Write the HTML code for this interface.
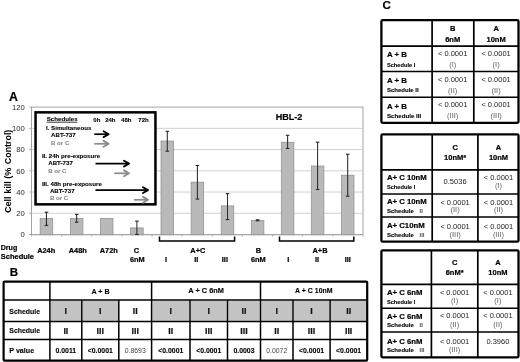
<!DOCTYPE html>
<html><head><meta charset="utf-8"><style>
html,body{margin:0;padding:0;background:#fff;}
svg{display:block;font-family:"Liberation Sans", Arial, sans-serif;}
</style></head><body>
<svg width="520" height="362" viewBox="0 0 520 362">
<rect width="520" height="362" fill="#fff"/>
<text x="8.9" y="101.3" font-size="12.3" font-weight="bold" text-anchor="start" fill="#000" stroke="#000" stroke-width="0.2" >A</text>
<rect x="31.5" y="107.1" width="331.5" height="127.4" fill="#fff" stroke="#9a9a9a" stroke-width="0.9" />
<line x1="31.5" y1="213.26999999999998" x2="363" y2="213.26999999999998" stroke="#c6c6c6" stroke-width="0.8" />
<line x1="31.5" y1="192.04" x2="363" y2="192.04" stroke="#c6c6c6" stroke-width="0.8" />
<line x1="31.5" y1="170.81" x2="363" y2="170.81" stroke="#c6c6c6" stroke-width="0.8" />
<line x1="31.5" y1="149.57999999999998" x2="363" y2="149.57999999999998" stroke="#c6c6c6" stroke-width="0.8" />
<line x1="31.5" y1="128.35" x2="363" y2="128.35" stroke="#c6c6c6" stroke-width="0.8" />
<line x1="29.0" y1="234.5" x2="31.5" y2="234.5" stroke="#a0a0a0" stroke-width="0.8" />
<text x="24.9" y="237.25" font-size="7.7" font-weight="normal" text-anchor="end" fill="#2a2a2a" >0</text>
<line x1="29.0" y1="213.26999999999998" x2="31.5" y2="213.26999999999998" stroke="#a0a0a0" stroke-width="0.8" />
<text x="24.9" y="216.02" font-size="7.7" font-weight="normal" text-anchor="end" fill="#2a2a2a" >20</text>
<line x1="29.0" y1="192.04" x2="31.5" y2="192.04" stroke="#a0a0a0" stroke-width="0.8" />
<text x="24.9" y="194.79" font-size="7.7" font-weight="normal" text-anchor="end" fill="#2a2a2a" >40</text>
<line x1="29.0" y1="170.81" x2="31.5" y2="170.81" stroke="#a0a0a0" stroke-width="0.8" />
<text x="24.9" y="173.56" font-size="7.7" font-weight="normal" text-anchor="end" fill="#2a2a2a" >60</text>
<line x1="29.0" y1="149.57999999999998" x2="31.5" y2="149.57999999999998" stroke="#a0a0a0" stroke-width="0.8" />
<text x="24.9" y="152.33" font-size="7.7" font-weight="normal" text-anchor="end" fill="#2a2a2a" >80</text>
<line x1="29.0" y1="128.35" x2="31.5" y2="128.35" stroke="#a0a0a0" stroke-width="0.8" />
<text x="24.9" y="131.1" font-size="7.7" font-weight="normal" text-anchor="end" fill="#2a2a2a" >100</text>
<line x1="29.0" y1="107.11999999999999" x2="31.5" y2="107.11999999999999" stroke="#a0a0a0" stroke-width="0.8" />
<text x="24.9" y="109.87" font-size="7.7" font-weight="normal" text-anchor="end" fill="#2a2a2a" >120</text>
<line x1="31.5" y1="234.8" x2="363" y2="234.8" stroke="#a8a8a8" stroke-width="0.9" />
<line x1="31.5" y1="234.5" x2="31.5" y2="236.5" stroke="#a0a0a0" stroke-width="0.8" />
<line x1="61.629999999999995" y1="234.5" x2="61.629999999999995" y2="236.5" stroke="#a0a0a0" stroke-width="0.8" />
<line x1="91.75999999999999" y1="234.5" x2="91.75999999999999" y2="236.5" stroke="#a0a0a0" stroke-width="0.8" />
<line x1="121.89" y1="234.5" x2="121.89" y2="236.5" stroke="#a0a0a0" stroke-width="0.8" />
<line x1="152.01999999999998" y1="234.5" x2="152.01999999999998" y2="236.5" stroke="#a0a0a0" stroke-width="0.8" />
<line x1="182.15" y1="234.5" x2="182.15" y2="236.5" stroke="#a0a0a0" stroke-width="0.8" />
<line x1="212.28" y1="234.5" x2="212.28" y2="236.5" stroke="#a0a0a0" stroke-width="0.8" />
<line x1="242.41" y1="234.5" x2="242.41" y2="236.5" stroke="#a0a0a0" stroke-width="0.8" />
<line x1="272.53999999999996" y1="234.5" x2="272.53999999999996" y2="236.5" stroke="#a0a0a0" stroke-width="0.8" />
<line x1="302.67" y1="234.5" x2="302.67" y2="236.5" stroke="#a0a0a0" stroke-width="0.8" />
<line x1="332.8" y1="234.5" x2="332.8" y2="236.5" stroke="#a0a0a0" stroke-width="0.8" />
<line x1="362.93" y1="234.5" x2="362.93" y2="236.5" stroke="#a0a0a0" stroke-width="0.8" />
<rect x="40.150000000000006" y="218.4" width="12.6" height="16.400000000000006" fill="#b9b9b9" stroke="#8c8c8c" stroke-width="0.7" />
<line x1="46.45" y1="212.2" x2="46.45" y2="225.4" stroke="#2a2a2a" stroke-width="1.05" />
<line x1="44.650000000000006" y1="212.2" x2="48.25" y2="212.2" stroke="#2a2a2a" stroke-width="1.1" />
<line x1="44.650000000000006" y1="225.4" x2="48.25" y2="225.4" stroke="#2a2a2a" stroke-width="1.1" />
<rect x="70.35000000000001" y="218.4" width="12.6" height="16.400000000000006" fill="#b9b9b9" stroke="#8c8c8c" stroke-width="0.7" />
<line x1="76.65" y1="214.4" x2="76.65" y2="222.2" stroke="#2a2a2a" stroke-width="1.05" />
<line x1="74.85000000000001" y1="214.4" x2="78.45" y2="214.4" stroke="#2a2a2a" stroke-width="1.1" />
<line x1="74.85000000000001" y1="222.2" x2="78.45" y2="222.2" stroke="#2a2a2a" stroke-width="1.1" />
<rect x="100.4" y="218.4" width="12.6" height="16.400000000000006" fill="#b9b9b9" stroke="#8c8c8c" stroke-width="0.7" />
<rect x="130.6" y="227.9" width="12.6" height="6.900000000000006" fill="#b9b9b9" stroke="#8c8c8c" stroke-width="0.7" />
<line x1="136.9" y1="221.1" x2="136.9" y2="234.5" stroke="#2a2a2a" stroke-width="1.05" />
<line x1="135.1" y1="221.1" x2="138.70000000000002" y2="221.1" stroke="#2a2a2a" stroke-width="1.1" />
<line x1="135.1" y1="234.5" x2="138.70000000000002" y2="234.5" stroke="#2a2a2a" stroke-width="1.1" />
<rect x="161.0" y="141.0" width="12.6" height="93.80000000000001" fill="#b9b9b9" stroke="#8c8c8c" stroke-width="0.7" />
<line x1="167.3" y1="131.3" x2="167.3" y2="151.2" stroke="#2a2a2a" stroke-width="1.05" />
<line x1="165.5" y1="131.3" x2="169.10000000000002" y2="131.3" stroke="#2a2a2a" stroke-width="1.1" />
<line x1="165.5" y1="151.2" x2="169.10000000000002" y2="151.2" stroke="#2a2a2a" stroke-width="1.1" />
<rect x="191.1" y="182.1" width="12.6" height="52.70000000000002" fill="#b9b9b9" stroke="#8c8c8c" stroke-width="0.7" />
<line x1="197.4" y1="165.5" x2="197.4" y2="199.1" stroke="#2a2a2a" stroke-width="1.05" />
<line x1="195.6" y1="165.5" x2="199.20000000000002" y2="165.5" stroke="#2a2a2a" stroke-width="1.1" />
<line x1="195.6" y1="199.1" x2="199.20000000000002" y2="199.1" stroke="#2a2a2a" stroke-width="1.1" />
<rect x="221.2" y="205.9" width="12.6" height="28.900000000000006" fill="#b9b9b9" stroke="#8c8c8c" stroke-width="0.7" />
<line x1="227.5" y1="193.6" x2="227.5" y2="219.6" stroke="#2a2a2a" stroke-width="1.05" />
<line x1="225.7" y1="193.6" x2="229.3" y2="193.6" stroke="#2a2a2a" stroke-width="1.1" />
<line x1="225.7" y1="219.6" x2="229.3" y2="219.6" stroke="#2a2a2a" stroke-width="1.1" />
<rect x="251.3" y="220.3" width="12.6" height="14.5" fill="#b9b9b9" stroke="#8c8c8c" stroke-width="0.7" />
<line x1="257.6" y1="219.8" x2="257.6" y2="220.8" stroke="#2a2a2a" stroke-width="1.05" />
<line x1="255.8" y1="219.8" x2="259.40000000000003" y2="219.8" stroke="#2a2a2a" stroke-width="1.1" />
<line x1="255.8" y1="220.8" x2="259.40000000000003" y2="220.8" stroke="#2a2a2a" stroke-width="1.1" />
<rect x="281.3" y="142.2" width="12.6" height="92.60000000000002" fill="#b9b9b9" stroke="#8c8c8c" stroke-width="0.7" />
<line x1="287.6" y1="135.3" x2="287.6" y2="148.5" stroke="#2a2a2a" stroke-width="1.05" />
<line x1="285.8" y1="135.3" x2="289.40000000000003" y2="135.3" stroke="#2a2a2a" stroke-width="1.1" />
<line x1="285.8" y1="148.5" x2="289.40000000000003" y2="148.5" stroke="#2a2a2a" stroke-width="1.1" />
<rect x="311.3" y="166.0" width="12.6" height="68.80000000000001" fill="#b9b9b9" stroke="#8c8c8c" stroke-width="0.7" />
<line x1="317.6" y1="142.2" x2="317.6" y2="189.5" stroke="#2a2a2a" stroke-width="1.05" />
<line x1="315.8" y1="142.2" x2="319.40000000000003" y2="142.2" stroke="#2a2a2a" stroke-width="1.1" />
<line x1="315.8" y1="189.5" x2="319.40000000000003" y2="189.5" stroke="#2a2a2a" stroke-width="1.1" />
<rect x="341.4" y="175.2" width="12.6" height="59.60000000000002" fill="#b9b9b9" stroke="#8c8c8c" stroke-width="0.7" />
<line x1="347.7" y1="154.2" x2="347.7" y2="196.2" stroke="#2a2a2a" stroke-width="1.05" />
<line x1="345.9" y1="154.2" x2="349.5" y2="154.2" stroke="#2a2a2a" stroke-width="1.1" />
<line x1="345.9" y1="196.2" x2="349.5" y2="196.2" stroke="#2a2a2a" stroke-width="1.1" />
<text transform="translate(10.5,213.0) rotate(-90)" x="0" y="0" font-size="8.8" font-weight="bold" textLength="45.3" lengthAdjust="spacingAndGlyphs">Cell kill (%</text>
<text transform="translate(10.5,164.2) rotate(-90)" x="0" y="0" font-size="8.8" font-weight="bold" textLength="34.5" lengthAdjust="spacingAndGlyphs">Control)</text>
<text x="275.7" y="119.8" font-size="9.1" font-weight="bold" text-anchor="start" fill="#000" stroke="#000" stroke-width="0.2" textLength="26.6" lengthAdjust="spacingAndGlyphs" >HBL-2</text>
<rect x="35.55" y="112.35" width="119.9" height="92.0" fill="#fff" stroke="#000" stroke-width="2.5" />
<text x="46.7" y="121.0" font-size="6" font-weight="bold" text-anchor="start" fill="#000" stroke="#000" stroke-width="0.1" textLength="31.0" lengthAdjust="spacingAndGlyphs" >Schedules</text>
<line x1="46.7" y1="122.2" x2="77.4" y2="122.2" stroke="#000" stroke-width="0.8" />
<text x="93.3" y="121.8" font-size="6" font-weight="bold" text-anchor="start" fill="#000" stroke="#000" stroke-width="0.1" >0h</text>
<text x="105.2" y="121.8" font-size="6" font-weight="bold" text-anchor="start" fill="#000" stroke="#000" stroke-width="0.1" >24h</text>
<text x="121.1" y="121.8" font-size="6" font-weight="bold" text-anchor="start" fill="#000" stroke="#000" stroke-width="0.1" >48h</text>
<text x="138.3" y="121.8" font-size="6" font-weight="bold" text-anchor="start" fill="#000" stroke="#000" stroke-width="0.1" >72h</text>
<text x="46.0" y="130.1" font-size="6" font-weight="bold" text-anchor="start" fill="#000" stroke="#000" stroke-width="0.1" textLength="45.3" lengthAdjust="spacingAndGlyphs" >I. Simultaneous</text>
<text x="51.0" y="137.4" font-size="6" font-weight="bold" text-anchor="start" fill="#000" stroke="#000" stroke-width="0.1" textLength="24.7" lengthAdjust="spacingAndGlyphs" >ABT-737</text>
<text x="51.0" y="144.9" font-size="6" font-weight="bold" text-anchor="start" fill="#8a8a8a" stroke="#8a8a8a" stroke-width="0.1" textLength="18.3" lengthAdjust="spacingAndGlyphs" >B or C</text>
<text x="41.9" y="158.3" font-size="6" font-weight="bold" text-anchor="start" fill="#000" stroke="#000" stroke-width="0.1" textLength="58.2" lengthAdjust="spacingAndGlyphs" >II. 24h pre-exposure</text>
<text x="48.2" y="165.3" font-size="6" font-weight="bold" text-anchor="start" fill="#000" stroke="#000" stroke-width="0.1" textLength="24.7" lengthAdjust="spacingAndGlyphs" >ABT-737</text>
<text x="48.2" y="172.9" font-size="6" font-weight="bold" text-anchor="start" fill="#8a8a8a" stroke="#8a8a8a" stroke-width="0.1" textLength="18.3" lengthAdjust="spacingAndGlyphs" >B or C</text>
<text x="41.9" y="185.8" font-size="6" font-weight="bold" text-anchor="start" fill="#000" stroke="#000" stroke-width="0.1" textLength="60" lengthAdjust="spacingAndGlyphs" >III. 48h pre-exposure</text>
<text x="49.9" y="193.2" font-size="6" font-weight="bold" text-anchor="start" fill="#000" stroke="#000" stroke-width="0.1" textLength="24.7" lengthAdjust="spacingAndGlyphs" >ABT-737</text>
<text x="49.9" y="200.0" font-size="6" font-weight="bold" text-anchor="start" fill="#8a8a8a" stroke="#8a8a8a" stroke-width="0.1" textLength="18.3" lengthAdjust="spacingAndGlyphs" >B or C</text>
<line x1="94.3" y1="134.2" x2="107.8" y2="134.2" stroke="#000" stroke-width="1.7" />
<polyline points="103.6,131.3 108.6,134.2 103.6,137.1" fill="none" stroke="#000" stroke-width="1.9" stroke-linejoin="round" stroke-linecap="round"/>
<line x1="94.3" y1="143.8" x2="107.8" y2="143.8" stroke="#8a8a8a" stroke-width="1.7" />
<polyline points="103.6,140.9 108.6,143.8 103.6,146.7" fill="none" stroke="#8a8a8a" stroke-width="1.9" stroke-linejoin="round" stroke-linecap="round"/>
<line x1="95.5" y1="163.6" x2="128.2" y2="163.6" stroke="#000" stroke-width="1.7" />
<polyline points="124.0,160.7 129.0,163.6 124.0,166.5" fill="none" stroke="#000" stroke-width="1.9" stroke-linejoin="round" stroke-linecap="round"/>
<line x1="114.3" y1="173.3" x2="128.2" y2="173.3" stroke="#8a8a8a" stroke-width="1.7" />
<polyline points="124.0,170.4 129.0,173.3 124.0,176.2" fill="none" stroke="#8a8a8a" stroke-width="1.9" stroke-linejoin="round" stroke-linecap="round"/>
<line x1="95.5" y1="190.1" x2="147.2" y2="190.1" stroke="#000" stroke-width="1.7" />
<polyline points="143.0,187.2 148.0,190.1 143.0,193.0" fill="none" stroke="#000" stroke-width="1.9" stroke-linejoin="round" stroke-linecap="round"/>
<line x1="134.0" y1="199.8" x2="147.2" y2="199.8" stroke="#8a8a8a" stroke-width="1.7" />
<polyline points="143.0,196.9 148.0,199.8 143.0,202.7" fill="none" stroke="#8a8a8a" stroke-width="1.9" stroke-linejoin="round" stroke-linecap="round"/>
<text x="0.8" y="250.3" font-size="7.3" font-weight="bold" text-anchor="start" fill="#000" stroke="#000" stroke-width="0.2" textLength="16.4" lengthAdjust="spacingAndGlyphs" >Drug</text>
<text x="0.8" y="258.6" font-size="7.3" font-weight="bold" text-anchor="start" fill="#000" stroke="#000" stroke-width="0.2" textLength="33.2" lengthAdjust="spacingAndGlyphs" >Schedule</text>
<text x="46.2" y="253.2" font-size="7.4" font-weight="bold" text-anchor="middle" fill="#000" stroke="#000" stroke-width="0.2" >A24h</text>
<text x="77.8" y="253.2" font-size="7.4" font-weight="bold" text-anchor="middle" fill="#000" stroke="#000" stroke-width="0.2" >A48h</text>
<text x="108.8" y="253.2" font-size="7.4" font-weight="bold" text-anchor="middle" fill="#000" stroke="#000" stroke-width="0.2" >A72h</text>
<text x="136.4" y="253.2" font-size="7.4" font-weight="bold" text-anchor="middle" fill="#000" stroke="#000" stroke-width="0.2" >C</text>
<text x="137.3" y="262.3" font-size="7.4" font-weight="bold" text-anchor="middle" fill="#000" stroke="#000" stroke-width="0.2" >6nM</text>
<text x="197.8" y="252.8" font-size="7.4" font-weight="bold" text-anchor="middle" fill="#000" stroke="#000" stroke-width="0.2" >A+C</text>
<text x="258.4" y="252.8" font-size="7.4" font-weight="bold" text-anchor="middle" fill="#000" stroke="#000" stroke-width="0.2" >B</text>
<text x="258.4" y="262.0" font-size="7.4" font-weight="bold" text-anchor="middle" fill="#000" stroke="#000" stroke-width="0.2" >6nM</text>
<text x="320.0" y="252.8" font-size="7.4" font-weight="bold" text-anchor="middle" fill="#000" stroke="#000" stroke-width="0.2" >A+B</text>
<text x="166" y="262.0" font-size="7.4" font-weight="bold" text-anchor="middle" fill="#000" stroke="#000" stroke-width="0.2" >I</text>
<text x="196.3" y="262.0" font-size="7.4" font-weight="bold" text-anchor="middle" fill="#000" stroke="#000" stroke-width="0.2" >II</text>
<text x="224.9" y="262.0" font-size="7.4" font-weight="bold" text-anchor="middle" fill="#000" stroke="#000" stroke-width="0.2" >III</text>
<text x="288.3" y="262.0" font-size="7.4" font-weight="bold" text-anchor="middle" fill="#000" stroke="#000" stroke-width="0.2" >I</text>
<text x="317" y="262.0" font-size="7.4" font-weight="bold" text-anchor="middle" fill="#000" stroke="#000" stroke-width="0.2" >II</text>
<text x="347.8" y="262.0" font-size="7.4" font-weight="bold" text-anchor="middle" fill="#000" stroke="#000" stroke-width="0.2" >III</text>
<polyline points="159.5,236.4 159.5,240.9 234.6,240.9 234.6,236.4" fill="none" stroke="#000" stroke-width="1.5"/>
<polyline points="279.5,236.4 279.5,240.9 353.8,240.9 353.8,236.4" fill="none" stroke="#000" stroke-width="1.5"/>
<text x="9.8" y="276.2" font-size="11.5" font-weight="bold" text-anchor="start" fill="#000" stroke="#000" stroke-width="0.2" >B</text>
<rect x="50.699999999999996" y="300.8" width="30.299999999999997" height="20.00000000000002" fill="#c3c3c3" stroke="none" stroke-width="1" />
<rect x="82.6" y="300.8" width="35.4" height="20.00000000000002" fill="#c3c3c3" stroke="none" stroke-width="1" />
<rect x="152.4" y="300.8" width="36.800000000000004" height="20.00000000000002" fill="#c3c3c3" stroke="none" stroke-width="1" />
<rect x="190.8" y="300.8" width="35.9" height="20.00000000000002" fill="#c3c3c3" stroke="none" stroke-width="1" />
<rect x="228.3" y="300.8" width="31.4" height="20.00000000000002" fill="#c3c3c3" stroke="none" stroke-width="1" />
<rect x="261.3" y="300.8" width="30.9" height="20.00000000000002" fill="#c3c3c3" stroke="none" stroke-width="1" />
<rect x="293.8" y="300.8" width="35.50000000000002" height="20.00000000000002" fill="#c3c3c3" stroke="none" stroke-width="1" />
<rect x="330.90000000000003" y="300.8" width="35.499999999999964" height="20.00000000000002" fill="#c3c3c3" stroke="none" stroke-width="1" />
<line x1="3.6" y1="300.0" x2="367.2" y2="300.0" stroke="#000" stroke-width="1.5" />
<line x1="3.6" y1="321.6" x2="367.2" y2="321.6" stroke="#000" stroke-width="1.5" />
<line x1="3.6" y1="339.4" x2="367.2" y2="339.4" stroke="#000" stroke-width="1.5" />
<line x1="49.9" y1="281.6" x2="49.9" y2="360.7" stroke="#000" stroke-width="1.5" />
<line x1="81.8" y1="300.0" x2="81.8" y2="360.7" stroke="#000" stroke-width="1.5" />
<line x1="118.8" y1="300.0" x2="118.8" y2="360.7" stroke="#000" stroke-width="1.5" />
<line x1="151.6" y1="281.6" x2="151.6" y2="360.7" stroke="#000" stroke-width="1.5" />
<line x1="190.0" y1="300.0" x2="190.0" y2="360.7" stroke="#000" stroke-width="1.5" />
<line x1="227.5" y1="300.0" x2="227.5" y2="360.7" stroke="#000" stroke-width="1.5" />
<line x1="260.5" y1="281.6" x2="260.5" y2="360.7" stroke="#000" stroke-width="1.5" />
<line x1="293.0" y1="300.0" x2="293.0" y2="360.7" stroke="#000" stroke-width="1.5" />
<line x1="330.1" y1="300.0" x2="330.1" y2="360.7" stroke="#000" stroke-width="1.5" />
<rect x="3.6" y="281.6" width="363.59999999999997" height="79.09999999999997" fill="none" stroke="#000" stroke-width="2.2" rx="1"/>
<text x="100.6" y="293.6" font-size="6.9" font-weight="bold" text-anchor="middle" fill="#000" stroke="#000" stroke-width="0.1" textLength="18.3" lengthAdjust="spacingAndGlyphs" >A + B</text>
<text x="206.1" y="293.4" font-size="6.9" font-weight="bold" text-anchor="middle" fill="#000" stroke="#000" stroke-width="0.1" textLength="35.6" lengthAdjust="spacingAndGlyphs" >A + C 6nM</text>
<text x="313.9" y="293.4" font-size="6.9" font-weight="bold" text-anchor="middle" fill="#000" stroke="#000" stroke-width="0.1" textLength="37.6" lengthAdjust="spacingAndGlyphs" >A + C 10nM</text>
<text x="9.3" y="313.6" font-size="6.9" font-weight="bold" text-anchor="start" fill="#000" stroke="#000" stroke-width="0.1" textLength="30.8" lengthAdjust="spacingAndGlyphs" >Schedule</text>
<text x="9.3" y="333.0" font-size="6.9" font-weight="bold" text-anchor="start" fill="#000" stroke="#000" stroke-width="0.1" textLength="30.8" lengthAdjust="spacingAndGlyphs" >Schedule</text>
<text x="9.3" y="353.1" font-size="6.9" font-weight="bold" text-anchor="start" fill="#000" stroke="#000" stroke-width="0.1" textLength="24.8" lengthAdjust="spacingAndGlyphs" >P value</text>
<text x="65.85" y="314.1" font-size="8.9" font-weight="bold" text-anchor="middle" fill="#111" stroke="#111" stroke-width="0.2" >I</text>
<text x="65.85" y="333.8" font-size="8.9" font-weight="bold" text-anchor="middle" fill="#111" stroke="#111" stroke-width="0.2" >II</text>
<text x="65.85" y="353.3" font-size="6.9" font-weight="bold" text-anchor="middle" fill="#000" stroke="#000" stroke-width="0.1" >0.0011</text>
<text x="100.3" y="314.1" font-size="8.9" font-weight="bold" text-anchor="middle" fill="#111" stroke="#111" stroke-width="0.2" >I</text>
<text x="100.3" y="333.8" font-size="8.9" font-weight="bold" text-anchor="middle" fill="#111" stroke="#111" stroke-width="0.2" >III</text>
<text x="100.3" y="353.3" font-size="6.9" font-weight="bold" text-anchor="middle" fill="#000" stroke="#000" stroke-width="0.1" ><0.0001</text>
<text x="135.2" y="314.1" font-size="8.9" font-weight="bold" text-anchor="middle" fill="#111" stroke="#111" stroke-width="0.2" >II</text>
<text x="135.2" y="333.8" font-size="8.9" font-weight="bold" text-anchor="middle" fill="#111" stroke="#111" stroke-width="0.2" >III</text>
<text x="135.2" y="353.3" font-size="6.9" font-weight="normal" text-anchor="middle" fill="#444" >0.8693</text>
<text x="170.8" y="314.1" font-size="8.9" font-weight="bold" text-anchor="middle" fill="#111" stroke="#111" stroke-width="0.2" >I</text>
<text x="170.8" y="333.8" font-size="8.9" font-weight="bold" text-anchor="middle" fill="#111" stroke="#111" stroke-width="0.2" >II</text>
<text x="170.8" y="353.3" font-size="6.9" font-weight="bold" text-anchor="middle" fill="#000" stroke="#000" stroke-width="0.1" ><0.0001</text>
<text x="208.75" y="314.1" font-size="8.9" font-weight="bold" text-anchor="middle" fill="#111" stroke="#111" stroke-width="0.2" >I</text>
<text x="208.75" y="333.8" font-size="8.9" font-weight="bold" text-anchor="middle" fill="#111" stroke="#111" stroke-width="0.2" >III</text>
<text x="208.75" y="353.3" font-size="6.9" font-weight="bold" text-anchor="middle" fill="#000" stroke="#000" stroke-width="0.1" ><0.0001</text>
<text x="244.0" y="314.1" font-size="8.9" font-weight="bold" text-anchor="middle" fill="#111" stroke="#111" stroke-width="0.2" >II</text>
<text x="244.0" y="333.8" font-size="8.9" font-weight="bold" text-anchor="middle" fill="#111" stroke="#111" stroke-width="0.2" >III</text>
<text x="244.0" y="353.3" font-size="6.9" font-weight="bold" text-anchor="middle" fill="#000" stroke="#000" stroke-width="0.1" >0.0003</text>
<text x="276.75" y="314.1" font-size="8.9" font-weight="bold" text-anchor="middle" fill="#111" stroke="#111" stroke-width="0.2" >I</text>
<text x="276.75" y="333.8" font-size="8.9" font-weight="bold" text-anchor="middle" fill="#111" stroke="#111" stroke-width="0.2" >II</text>
<text x="276.75" y="353.3" font-size="6.9" font-weight="normal" text-anchor="middle" fill="#444" >0.0072</text>
<text x="311.55" y="314.1" font-size="8.9" font-weight="bold" text-anchor="middle" fill="#111" stroke="#111" stroke-width="0.2" >I</text>
<text x="311.55" y="333.8" font-size="8.9" font-weight="bold" text-anchor="middle" fill="#111" stroke="#111" stroke-width="0.2" >III</text>
<text x="311.55" y="353.3" font-size="6.9" font-weight="bold" text-anchor="middle" fill="#000" stroke="#000" stroke-width="0.1" ><0.0001</text>
<text x="348.65" y="314.1" font-size="8.9" font-weight="bold" text-anchor="middle" fill="#111" stroke="#111" stroke-width="0.2" >II</text>
<text x="348.65" y="333.8" font-size="8.9" font-weight="bold" text-anchor="middle" fill="#111" stroke="#111" stroke-width="0.2" >III</text>
<text x="348.65" y="353.3" font-size="6.9" font-weight="bold" text-anchor="middle" fill="#000" stroke="#000" stroke-width="0.1" ><0.0001</text>
<text x="382.5" y="8.9" font-size="11.5" font-weight="bold" text-anchor="start" fill="#000" stroke="#000" stroke-width="0.2" >C</text>
<line x1="381.4" y1="71.5" x2="518.5" y2="71.5" stroke="#000" stroke-width="1.5" />
<line x1="381.4" y1="97.3" x2="518.5" y2="97.3" stroke="#000" stroke-width="1.5" />
<line x1="381.4" y1="46.1" x2="518.5" y2="46.1" stroke="#000" stroke-width="1.7" />
<line x1="432.1" y1="20.2" x2="432.1" y2="122.8" stroke="#000" stroke-width="1.7" />
<line x1="473.8" y1="20.2" x2="473.8" y2="122.8" stroke="#000" stroke-width="1.7" />
<rect x="381.4" y="20.2" width="137.10000000000002" height="102.6" fill="none" stroke="#000" stroke-width="2.3" rx="1.3"/>
<text x="452.7" y="30.59" font-size="7.5" font-weight="bold" text-anchor="middle" fill="#000" stroke="#000" stroke-width="0.2" >B</text>
<text x="452.7" y="41.59" font-size="7.5" font-weight="bold" text-anchor="middle" fill="#000" stroke="#000" stroke-width="0.2" >6nM</text>
<text x="496.1" y="30.59" font-size="7.5" font-weight="bold" text-anchor="middle" fill="#000" stroke="#000" stroke-width="0.2" >A</text>
<text x="496.1" y="41.59" font-size="7.5" font-weight="bold" text-anchor="middle" fill="#000" stroke="#000" stroke-width="0.2" >10nM</text>
<text x="386.9" y="57.4" font-size="8.0" font-weight="bold" text-anchor="start" fill="#000" stroke="#000" stroke-width="0.2" textLength="19.9" lengthAdjust="spacingAndGlyphs" >A + B</text>
<text x="386.9" y="66.55" font-size="6.0" font-weight="bold" text-anchor="start" fill="#000" stroke="#000" stroke-width="0.1" textLength="28.4" lengthAdjust="spacingAndGlyphs" >Schedule I</text>
<text x="452.7" y="56.19" font-size="7.5" font-weight="normal" text-anchor="middle" fill="#222" >< 0.0001</text>
<text x="452.7" y="67.04" font-size="7.5" font-weight="normal" text-anchor="middle" fill="#606060" >(I)</text>
<text x="496.1" y="56.19" font-size="7.5" font-weight="normal" text-anchor="middle" fill="#222" >< 0.0001</text>
<text x="496.1" y="67.04" font-size="7.5" font-weight="normal" text-anchor="middle" fill="#606060" >(I)</text>
<text x="386.9" y="83.1" font-size="8.0" font-weight="bold" text-anchor="start" fill="#000" stroke="#000" stroke-width="0.2" textLength="19.9" lengthAdjust="spacingAndGlyphs" >A + B</text>
<text x="386.9" y="92.25" font-size="6.0" font-weight="bold" text-anchor="start" fill="#000" stroke="#000" stroke-width="0.1" textLength="31.8" lengthAdjust="spacingAndGlyphs" >Schedule II</text>
<text x="452.7" y="82.09" font-size="7.5" font-weight="normal" text-anchor="middle" fill="#222" >< 0.0001</text>
<text x="452.7" y="92.74" font-size="7.5" font-weight="normal" text-anchor="middle" fill="#606060" >(II)</text>
<text x="496.1" y="82.09" font-size="7.5" font-weight="normal" text-anchor="middle" fill="#222" >< 0.0001</text>
<text x="496.1" y="92.74" font-size="7.5" font-weight="normal" text-anchor="middle" fill="#606060" >(II)</text>
<text x="386.9" y="109.0" font-size="8.0" font-weight="bold" text-anchor="start" fill="#000" stroke="#000" stroke-width="0.2" textLength="19.9" lengthAdjust="spacingAndGlyphs" >A + B</text>
<text x="386.9" y="118.25" font-size="6.0" font-weight="bold" text-anchor="start" fill="#000" stroke="#000" stroke-width="0.1" textLength="34.3" lengthAdjust="spacingAndGlyphs" >Schedule III</text>
<text x="452.7" y="107.29" font-size="7.5" font-weight="normal" text-anchor="middle" fill="#222" >< 0.0001</text>
<text x="452.7" y="117.94" font-size="7.5" font-weight="normal" text-anchor="middle" fill="#606060" >(III)</text>
<text x="496.1" y="107.29" font-size="7.5" font-weight="normal" text-anchor="middle" fill="#222" >< 0.0001</text>
<text x="496.1" y="117.94" font-size="7.5" font-weight="normal" text-anchor="middle" fill="#606060" >(III)</text>
<line x1="381.4" y1="194.0" x2="518.5" y2="194.0" stroke="#000" stroke-width="1.5" />
<line x1="381.4" y1="217.1" x2="518.5" y2="217.1" stroke="#000" stroke-width="1.5" />
<line x1="381.4" y1="169.8" x2="518.5" y2="169.8" stroke="#000" stroke-width="1.7" />
<line x1="432.2" y1="134.4" x2="432.2" y2="241.7" stroke="#000" stroke-width="1.7" />
<line x1="477.9" y1="134.4" x2="477.9" y2="241.7" stroke="#000" stroke-width="1.7" />
<rect x="381.4" y="134.4" width="137.10000000000002" height="107.29999999999998" fill="none" stroke="#000" stroke-width="2.3" rx="1.3"/>
<text x="455.1" y="149.79" font-size="7.5" font-weight="bold" text-anchor="middle" fill="#000" stroke="#000" stroke-width="0.2" >C</text>
<text x="455.1" y="160.19" font-size="7.5" font-weight="bold" text-anchor="middle" fill="#000" stroke="#000" stroke-width="0.2" >10nM*</text>
<text x="498.5" y="149.79" font-size="7.5" font-weight="bold" text-anchor="middle" fill="#000" stroke="#000" stroke-width="0.2" >A</text>
<text x="498.5" y="160.19" font-size="7.5" font-weight="bold" text-anchor="middle" fill="#000" stroke="#000" stroke-width="0.2" >10nM</text>
<text x="386.9" y="180.4" font-size="8.0" font-weight="bold" text-anchor="start" fill="#000" stroke="#000" stroke-width="0.2" textLength="39.9" lengthAdjust="spacingAndGlyphs" >A+ C 10nM</text>
<text x="386.9" y="189.15" font-size="6.0" font-weight="bold" text-anchor="start" fill="#000" stroke="#000" stroke-width="0.1" textLength="28.4" lengthAdjust="spacingAndGlyphs" >Schedule I</text>
<text x="455.1" y="184.49" font-size="7.5" font-weight="normal" text-anchor="middle" fill="#222" >0.5036</text>
<text x="498.5" y="180.19" font-size="7.5" font-weight="normal" text-anchor="middle" fill="#222" >< 0.0001</text>
<text x="498.5" y="188.24" font-size="7.5" font-weight="normal" text-anchor="middle" fill="#606060" >(I)</text>
<text x="386.9" y="204.4" font-size="8.0" font-weight="bold" text-anchor="start" fill="#000" stroke="#000" stroke-width="0.2" textLength="39.9" lengthAdjust="spacingAndGlyphs" >A+ C 10nM</text>
<text x="386.9" y="213.15" font-size="6.0" font-weight="bold" text-anchor="start" fill="#000" stroke="#000" stroke-width="0.1" textLength="27.0" lengthAdjust="spacingAndGlyphs" >Schedule</text>
<text x="419.5" y="213.15" font-size="6.0" font-weight="bold" text-anchor="start" fill="#666" stroke="#666" stroke-width="0.1" >II</text>
<text x="455.1" y="204.59" font-size="7.5" font-weight="normal" text-anchor="middle" fill="#222" >< 0.0001</text>
<text x="455.1" y="212.44" font-size="7.5" font-weight="normal" text-anchor="middle" fill="#606060" >(II)</text>
<text x="498.5" y="204.59" font-size="7.5" font-weight="normal" text-anchor="middle" fill="#222" >< 0.0001</text>
<text x="498.5" y="212.44" font-size="7.5" font-weight="normal" text-anchor="middle" fill="#606060" >(II)</text>
<text x="386.9" y="228.2" font-size="8.0" font-weight="bold" text-anchor="start" fill="#000" stroke="#000" stroke-width="0.2" textLength="37.9" lengthAdjust="spacingAndGlyphs" >A+ C10nM</text>
<text x="386.9" y="237.15" font-size="6.0" font-weight="bold" text-anchor="start" fill="#000" stroke="#000" stroke-width="0.1" textLength="27.0" lengthAdjust="spacingAndGlyphs" >Schedule</text>
<text x="419.5" y="237.15" font-size="6.0" font-weight="bold" text-anchor="start" fill="#666" stroke="#666" stroke-width="0.1" >III</text>
<text x="455.1" y="228.59" font-size="7.5" font-weight="normal" text-anchor="middle" fill="#222" >< 0.0001</text>
<text x="455.1" y="237.14" font-size="7.5" font-weight="normal" text-anchor="middle" fill="#606060" >(III)</text>
<text x="498.5" y="228.59" font-size="7.5" font-weight="normal" text-anchor="middle" fill="#222" >< 0.0001</text>
<text x="498.5" y="237.14" font-size="7.5" font-weight="normal" text-anchor="middle" fill="#606060" >(III)</text>
<line x1="381.4" y1="308.2" x2="518.5" y2="308.2" stroke="#000" stroke-width="1.5" />
<line x1="381.4" y1="332.1" x2="518.5" y2="332.1" stroke="#000" stroke-width="1.5" />
<line x1="381.4" y1="284.3" x2="518.5" y2="284.3" stroke="#000" stroke-width="1.7" />
<line x1="431.4" y1="250.3" x2="431.4" y2="357.4" stroke="#000" stroke-width="1.7" />
<line x1="477.8" y1="250.3" x2="477.8" y2="357.4" stroke="#000" stroke-width="1.7" />
<rect x="381.4" y="250.3" width="137.10000000000002" height="107.09999999999997" fill="none" stroke="#000" stroke-width="2.3" rx="1.3"/>
<text x="454.6" y="264.89" font-size="7.5" font-weight="bold" text-anchor="middle" fill="#000" stroke="#000" stroke-width="0.2" >C</text>
<text x="454.6" y="274.69" font-size="7.5" font-weight="bold" text-anchor="middle" fill="#000" stroke="#000" stroke-width="0.2" >6nM*</text>
<text x="497.9" y="264.89" font-size="7.5" font-weight="bold" text-anchor="middle" fill="#000" stroke="#000" stroke-width="0.2" >A</text>
<text x="497.9" y="274.69" font-size="7.5" font-weight="bold" text-anchor="middle" fill="#000" stroke="#000" stroke-width="0.2" >10nM</text>
<text x="386.9" y="295.4" font-size="8.0" font-weight="bold" text-anchor="start" fill="#000" stroke="#000" stroke-width="0.2" textLength="35.5" lengthAdjust="spacingAndGlyphs" >A+ C 6nM</text>
<text x="386.9" y="303.55" font-size="6.0" font-weight="bold" text-anchor="start" fill="#000" stroke="#000" stroke-width="0.1" textLength="28.4" lengthAdjust="spacingAndGlyphs" >Schedule I</text>
<text x="454.6" y="295.49" font-size="7.5" font-weight="normal" text-anchor="middle" fill="#222" >< 0.0001</text>
<text x="454.6" y="303.44" font-size="7.5" font-weight="normal" text-anchor="middle" fill="#606060" >(I)</text>
<text x="497.9" y="295.49" font-size="7.5" font-weight="normal" text-anchor="middle" fill="#222" >< 0.0001</text>
<text x="497.9" y="303.44" font-size="7.5" font-weight="normal" text-anchor="middle" fill="#606060" >(I)</text>
<text x="386.9" y="318.9" font-size="8.0" font-weight="bold" text-anchor="start" fill="#000" stroke="#000" stroke-width="0.2" textLength="35.5" lengthAdjust="spacingAndGlyphs" >A+ C 6nM</text>
<text x="386.9" y="327.15" font-size="6.0" font-weight="bold" text-anchor="start" fill="#000" stroke="#000" stroke-width="0.1" textLength="27.0" lengthAdjust="spacingAndGlyphs" >Schedule</text>
<text x="419.5" y="327.15" font-size="6.0" font-weight="bold" text-anchor="start" fill="#666" stroke="#666" stroke-width="0.1" >II</text>
<text x="454.6" y="318.39" font-size="7.5" font-weight="normal" text-anchor="middle" fill="#222" >< 0.0001</text>
<text x="454.6" y="326.94" font-size="7.5" font-weight="normal" text-anchor="middle" fill="#606060" >(II)</text>
<text x="497.9" y="318.39" font-size="7.5" font-weight="normal" text-anchor="middle" fill="#222" >< 0.0001</text>
<text x="497.9" y="326.94" font-size="7.5" font-weight="normal" text-anchor="middle" fill="#606060" >(II)</text>
<text x="386.9" y="343.6" font-size="8.0" font-weight="bold" text-anchor="start" fill="#000" stroke="#000" stroke-width="0.2" textLength="35.5" lengthAdjust="spacingAndGlyphs" >A+ C 6nM</text>
<text x="386.9" y="352.15" font-size="6.0" font-weight="bold" text-anchor="start" fill="#000" stroke="#000" stroke-width="0.1" textLength="27.0" lengthAdjust="spacingAndGlyphs" >Schedule</text>
<text x="419.5" y="352.15" font-size="6.0" font-weight="bold" text-anchor="start" fill="#666" stroke="#666" stroke-width="0.1" >III</text>
<text x="454.6" y="343.69" font-size="7.5" font-weight="normal" text-anchor="middle" fill="#222" >< 0.0001</text>
<text x="454.6" y="352.44" font-size="7.5" font-weight="normal" text-anchor="middle" fill="#606060" >(III)</text>
<text x="497.9" y="343.69" font-size="7.5" font-weight="normal" text-anchor="middle" fill="#222" >0.3960</text>
</svg>
</body></html>
